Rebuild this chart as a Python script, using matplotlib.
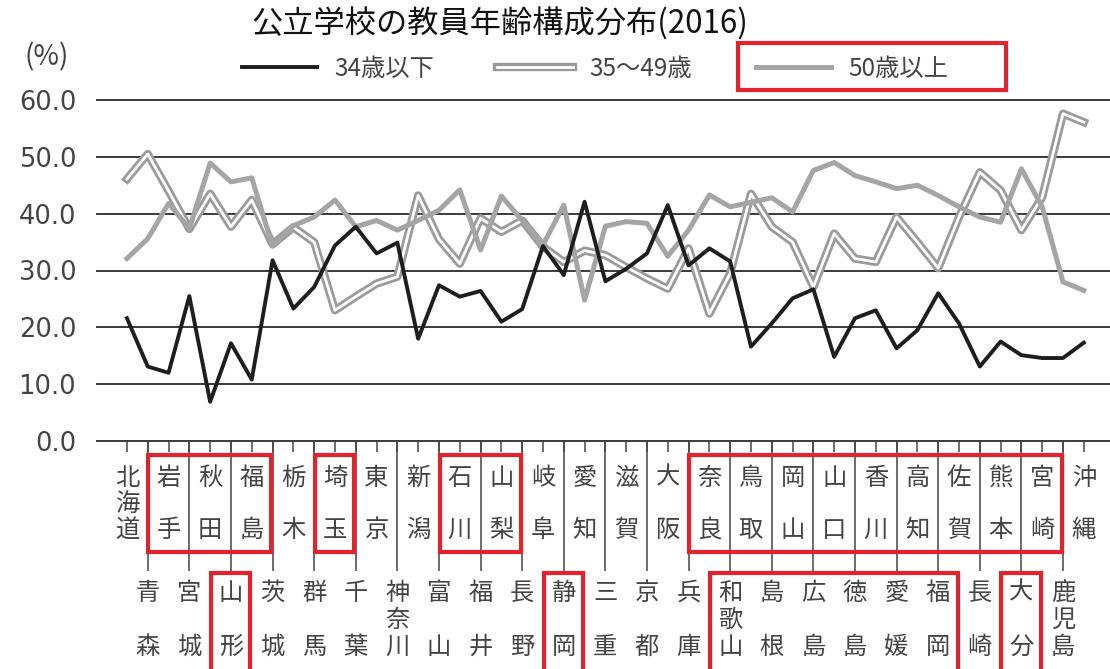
import matplotlib
matplotlib.use('Agg')
import matplotlib.pyplot as plt
import matplotlib.patheffects as pe
from matplotlib.patches import Rectangle
from matplotlib.ticker import FormatStrFormatter
import numpy as np

plt.rcParams['font.family'] = ['Noto Sans CJK JP', 'DejaVu Sans']

# ---------------- data ----------------
title = '公立学校の教員年齢構成分布(2016)'
unit_label = '(%)'
series_names = ['34歳以下', '35〜49歳', '50歳以上']

prefs = ['北海道', '青森', '岩手', '宮城', '秋田', '山形', '福島', '茨城', '栃木', '群馬',
         '埼玉', '千葉', '東京', '神奈川', '新潟', '富山', '石川', '福井', '山梨', '長野',
         '岐阜', '静岡', '愛知', '三重', '滋賀', '京都', '大阪', '兵庫', '奈良', '和歌山',
         '鳥取', '島根', '岡山', '広島', '山口', '徳島', '香川', '愛媛', '高知', '福岡',
         '佐賀', '長崎', '熊本', '大分', '宮崎', '鹿児島', '沖縄']

young = [21.6, 13.1, 12.0, 25.5, 6.9, 17.2, 10.8, 31.8, 23.3, 27.1,
         34.4, 37.7, 33.0, 34.9, 18.0, 27.4, 25.4, 26.4, 21.0, 23.2,
         34.3, 29.2, 42.1, 28.1, 30.3, 33.0, 41.5, 30.9, 33.9, 31.6,
         16.6, 20.7, 25.1, 26.7, 14.8, 21.6, 23.0, 16.3, 19.5, 26.0,
         20.7, 13.1, 17.5, 15.1, 14.6, 14.6, 17.3]

middle = [46.1, 50.5, 44.0, 37.3, 43.5, 37.7, 42.4, 34.6, 37.6, 35.0,
          23.0, 25.4, 27.7, 28.9, 43.2, 35.5, 31.2, 39.2, 36.8, 38.8,
          34.2, 31.5, 33.5, 32.7, 30.6, 28.6, 26.8, 33.9, 22.4, 29.5,
          43.5, 37.7, 35.0, 27.1, 36.5, 32.1, 31.5, 39.4, 35.0, 30.4,
          39.4, 47.3, 44.1, 37.1, 42.9, 57.6, 56.1]

senior = [32.1, 35.6, 41.8, 37.4, 48.9, 45.6, 46.3, 34.3, 37.9, 39.4,
          42.4, 37.7, 38.8, 37.1, 38.8, 40.6, 44.2, 33.6, 43.1, 38.8,
          34.5, 41.5, 24.8, 37.8, 38.6, 38.3, 32.5, 37.1, 43.3, 41.2,
          42.0, 42.8, 40.3, 47.6, 49.0, 46.7, 45.6, 44.4, 45.0, 43.2,
          41.2, 39.4, 38.5, 47.9, 41.2, 28.0, 26.5]

yticks = [0, 10, 20, 30, 40, 50, 60]

# highlighted prefectures (first index, last index, label row)
highlight_groups = [(2, 6, 'top'), (10, 10, 'top'), (16, 18, 'top'), (28, 44, 'top'),
                    (5, 5, 'bottom'), (21, 21, 'bottom'), (29, 39, 'bottom'), (43, 43, 'bottom')]

# ---------------- layout ----------------
W, H = 1110, 669
AX_L, AX_R, AX_T, AX_B = 97, 1110, 100, 441

fig = plt.figure(figsize=(W / 100, H / 100), dpi=100)
fig.patch.set_facecolor('white')
ax = fig.add_axes([AX_L / W, 1 - AX_B / H, (AX_R - AX_L) / W, (AX_B - AX_T) / H])


def py2ax(py):
    return (AX_B - py) / (AX_B - AX_T)


x = np.arange(len(prefs))
ax.set_xlim(-1.44, 47.26)
ax.set_ylim(0, 60)

for s in ax.spines.values():
    s.set_visible(False)

ax.set_yticks(yticks)
ax.yaxis.set_major_formatter(FormatStrFormatter('%.1f'))
ax.yaxis.grid(True, color='#3a3a3a', lw=1.4)
ax.set_axisbelow(True)
for gl in ax.get_ygridlines():
    gl.set_clip_on(False)
ax.tick_params(axis='y', length=0, pad=15, labelsize=18.5, labelcolor='#444444',
               labelfontfamily='DejaVu Sans')

ax.set_xticks(x)
ax.set_xticklabels([])
ax.tick_params(axis='x', length=8, width=1.1, color='#444444', direction='out')

# lines
l_young, = ax.plot(x, young, color='#1e1e1e', lw=2.8, zorder=5, label=series_names[0])
l_mid, = ax.plot(x, middle, color='white', lw=2.0, zorder=3, label=series_names[1],
                 path_effects=[pe.Stroke(linewidth=6.0, foreground='#9b9b9b'), pe.Normal()])
l_old, = ax.plot(x, senior, color='#a5a5a5', lw=3.6, zorder=4, label=series_names[2])

# category label separators
xt = ax.get_xaxis_transform()
ax.vlines(x[1::2], py2ax(571), 0, transform=xt, colors='#444444', lw=1.1, clip_on=False)

# category labels (vertical text)
rows = {'top': (478, 530), 'bottom': (593, 647)}
for i, name in enumerate(prefs):
    top, bot = rows['top'] if i % 2 == 0 else rows['bottom']
    n = len(name)
    for k, ch in enumerate(name):
        cy = top + (bot - top) * (k / (n - 1) if n > 1 else 0.5)
        ax.text(i, py2ax(cy), ch, transform=xt, ha='center', va='center',
                fontsize=17.5, color='#444444')

# red highlight boxes
box_rows = {'top': (455, 552), 'bottom': (573, 676)}
for i0, i1, row in highlight_groups:
    t, b = box_rows[row]
    ax.add_patch(Rectangle((i0 - 0.97, py2ax(b)), (i1 - i0) + 1.9, py2ax(t) - py2ax(b),
                           transform=xt, fill=False, ec='#e3232b', lw=3, clip_on=False,
                           zorder=10))

# title and unit
fig.text(500 / W, 1 - 24 / H, title, ha='center', va='center', fontsize=22.5, color='#111111')
fig.text(47 / W, 1 - 57 / H, unit_label, ha='center', va='center', fontsize=20,
         color='#444444')

# legend
leg = fig.legend([l_young, l_mid, l_old], series_names, loc='center',
                 bbox_to_anchor=(595 / W, 1 - 69 / H), ncol=3, frameon=False,
                 fontsize=17.5, handlelength=3.1, handletextpad=0.7, columnspacing=2.6,
                 labelcolor='#444444')

fig.canvas.draw()
r = fig.canvas.get_renderer()
bl = leg.get_lines()[2].get_window_extent(r)
bt = leg.get_texts()[2].get_window_extent(r)
x0 = bl.x0 - 18
x1 = bt.x1 + 58
yc = H - 66.5
fig.patches.append(Rectangle((x0 / W, (yc - 23.5) / H), (x1 - x0) / W, 47 / H,
                             transform=fig.transFigure, fill=False, ec='#e3232b', lw=3,
                             figure=fig))

fig.savefig('out.png', dpi=100)
